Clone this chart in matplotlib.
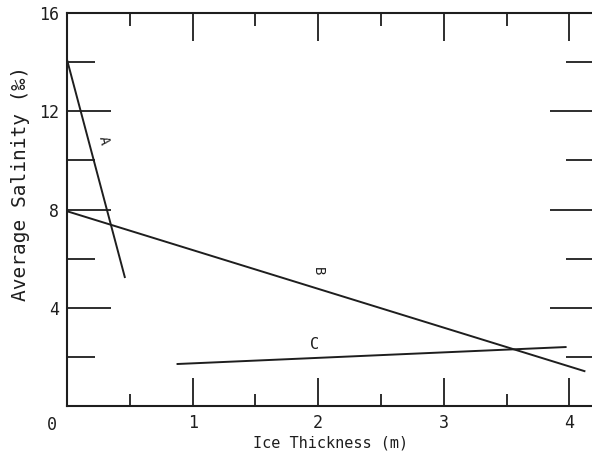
import matplotlib.pyplot as plt
from matplotlib.ticker import MultipleLocator
from matplotlib.transforms import ScaledTranslation

# ice thickness (m) vs average salinity (per mil), three linear fits
a_x = [0.0, 0.46]
a_y = [14.1, 5.25]
b_x = [0.0, 4.12]
b_y = [7.93, 1.42]
c_x = [0.88, 3.97]
c_y = [1.71, 2.40]

x_ticks = [0, 1, 2, 3, 4]
y_ticks = [4, 8, 12, 16]

ink = '#1e1e1e'
plt.rcParams['font.family'] = ['DejaVu Sans Mono', 'DejaVu Sans']

fig = plt.figure(figsize=(5.92, 4.55), dpi=100)
ax = fig.add_axes([0.1132, 0.1077, 0.891, 0.8637])

ax.plot(a_x, a_y, color=ink, lw=1.4)
ax.plot(b_x, b_y, color=ink, lw=1.4)
ax.plot(c_x, c_y, color=ink, lw=1.4)

ax.text(0.29, 10.8, 'A', rotation=-78, ha='center', va='center',
        fontsize=10, color=ink)
ax.text(2.0, 5.5, 'B', rotation=-90, ha='center', va='center',
        fontsize=10, color=ink)
ax.text(1.97, 2.5, 'C', ha='center', va='center', fontsize=11, color=ink)

ax.set_xlim(0, 4.2)
ax.set_ylim(0, 16)
ax.set_xticks(x_ticks)
ax.set_yticks(y_ticks)
ax.xaxis.set_minor_locator(MultipleLocator(0.5))
ax.yaxis.set_minor_locator(MultipleLocator(2))

ax.tick_params(which='both', direction='in', top=True, right=True,
               color=ink, width=1.3, labelsize=12, labelcolor=ink)
ax.tick_params(axis='x', which='major', length=20, pad=6)
ax.tick_params(axis='x', which='minor', length=9)
ax.tick_params(axis='y', which='major', length=32, pad=6)
ax.tick_params(axis='y', which='minor', length=20)

# the origin label sits off the corner, down and to the left
ax.get_xticklabels()[0].set_transform(
    ax.get_xticklabels()[0].get_transform()
    + ScaledTranslation(-0.15, -0.02, fig.dpi_scale_trans))

for s in ax.spines.values():
    s.set_color(ink)
    s.set_linewidth(1.5)

ax.set_xlabel('Ice Thickness (m)', fontsize=11, color=ink, labelpad=1)
ax.set_ylabel('Average Salinity (‰)', fontsize=14, color=ink)
ax.yaxis.set_label_coords(-0.07, 0.565)

fig.savefig('out.png', dpi=100)
